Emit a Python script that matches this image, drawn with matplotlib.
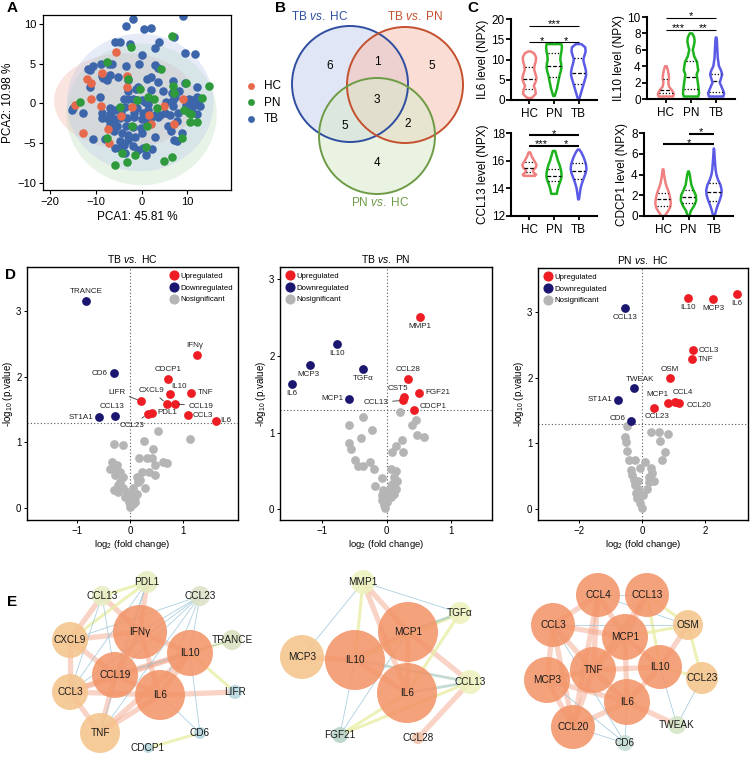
import numpy as np
import matplotlib
matplotlib.use('Agg')
import matplotlib.pyplot as plt
from matplotlib.patches import Circle, Ellipse, Polygon
from matplotlib.lines import Line2D

plt.rcParams['font.family'] = ['Liberation Sans', 'DejaVu Sans']
plt.rcParams['mathtext.fontset'] = 'custom'
plt.rcParams['mathtext.rm'] = 'Liberation Sans'
plt.rcParams['mathtext.it'] = 'Liberation Sans:italic'
plt.rcParams['mathtext.bf'] = 'Liberation Sans:bold'

W, H = 750, 757

# ---------------- data: A (PCA) ----------------
hc_pc1 = [-5.6, -8.6, -11.8, -3.2, -11.1, -3.2, 9.1, -11.1, -8.8, -2.1, 4.9, -4.4, 1.6, 7.1, 2.0, -7.3, -12.8, -7.0, -14.5]
hc_pc2 = [6.4, 3.8, 3.0, 3.4, 2.5, 2.0, 0.6, 0.5, -0.4, -0.5, -0.4, -1.6, -1.5, -2.6, -2.6, -3.25, -3.7, -5.0, -0.2]
pn_pc1 = [6.7, -2.3, -7.5, 4.3, -3.0, 6.9, 9.6, 14.6, -0.4, 1.3, 2.7, 13.1, 7.1, -13.4, -4.6, -1.1, 3.4, 9.3,
          10.4, 10.7, 12.1, 10.6, -2.1, 1.2, -7.5, 8.8, -4.3, 0.9, -1.4, 6.6, 4.9, -3.2, -5.7]
pn_pc2 = [8.5, 7.1, 5.2, 4.25, 3.1, 2.2, 2.5, 2.2, 1.75, 0.8, 0.6, 0.7, 1.25, 0.1, -0.5, 0.4, -0.6, -0.8,
          -1.25, -1.3, -2.4, -2.3, -2.9, -2.9, -4.4, -4.4, -6.2, -5.5, -6.5, -6.75, -7.3, -7.4, -7.8]
tb_pc1 = [-1.8, 9.1, -3.4, 0.6, 2.0, 7.1, -5.9, -4.6, -2.5, 3.9, 3.0, 0.1, 9.4, 11.6,
          -10.7, -11.6, -11.2, -8.9, -7.0, -6.4, -3.4, -0.6, 3.0, 3.6,
          -8.7, -8.4, -7.6, -6.9, -5.2, -2.9, 1.2, 2.0, 3.6, 6.9, 9.4, 12.0, -11.3,
          -2.9, -1.3, -0.7, 2.0, 4.6, 6.6, 7.3, 8.2, 10.4, 11.3, 12.1, 12.3, 12.7,
          -9.1, -3.9, -2.9, -1.9, -0.9, 0.1, 0.7, 1.4, 5.4, 6.9,
          -12.7, -14.9, -15.1, -8.6, -6.8, -6.8, -5.9, -4.4, -3.7, -1.6, -0.9, 0.4, 1.4, 3.0, 4.1, 5.0, 6.1, 6.8,
          7.9, 9.6, 10.7, 11.3, 12.1,
          -8.6, -7.3, -5.9, -4.6, -3.2, -1.6, 0.0, 1.8, 3.6, 5.7, 7.7, -6.8, -5.4, -3.4, -1.8, -0.1, 1.1,
          -10.6, -7.9, -6.1, -4.3, -2.9, -1.4, 0.0, 2.9, 6.4, 7.1, 7.7, 8.9, -4.6, -3.9, -3.0, -1.8, -4.6,
          -5.7, 0.4, -0.7, 0.9, 2.3, -3.6]
tb_pc2 = [10.6, 11.0, 9.7, 9.4, 9.5, 8.3, 7.7, 7.7, 7.4, 7.7, 7.0, 6.1, 6.3, 6.2,
          4.7, 4.3, 4.2, 5.0, 5.0, 4.9, 4.7, 5.0, 4.8, 4.4,
          3.4, 3.2, 2.9, 3.5, 3.3, 2.9, 3.0, 3.3, 2.7, 2.8, 2.6, 2.0, 2.0,
          1.6, 1.75, 2.0, 1.7, 1.6, 1.25, 0.8, 1.6, 0.5, 0.4, 0.8, 0.4, -0.3,
          0.75, 0.6, 0.6, 0.5, 0.4, 0.4, 0.1, -0.1, 0.2, 0.4,
          -1.25, -0.6, -0.8, -1.25, -0.6, -1.3, -0.8, -1.2, -0.5, -1.2, -0.6, -1.25, -0.8, -1.5, -1.5, -1.25, -1.5, -0.4,
          -1.2, -0.2, -0.8, -0.3, -1.3,
          -1.9, -2.0, -2.0, -1.9, -1.9, -1.75, -2.0, -2.1, -1.75, -2.8, -2.2, -2.7, -2.8, -2.8, -3.0, -3.1, -2.6,
          -4.5, -4.5, -3.5, -3.7, -4.0, -4.2, -3.75, -4.25, -3.5, -4.6, -4.8, -3.75, -4.8, -5.2, -4.6, -5.4, -5.6,
          -5.6, -5.6, -5.9, -6.5, -5.8, -6.25]
# confidence ellipses: centre x, centre y, width, height
ell_groups = ['HC', 'PN', 'TB']
ell_cx = [-3.6, 0.0, -0.3]
ell_cy = [0.3, -1.4, 0.1]
ell_w = [31.0, 32.8, 32.0]
ell_h = [12.0, 17.8, 17.3]

# ---------------- data: B (Venn) ----------------
venn_titles = ['TB $\\it{vs.}$ HC', 'TB $\\it{vs.}$ PN', 'PN $\\it{vs.}$ HC']
venn_counts = {'100': 6, '010': 5, '001': 4, '110': 1, '101': 5, '011': 2, '111': 3}

# ---------------- data: C (violins) ----------------
groups = ['HC', 'PN', 'TB']
violins = {
    'IL6': {
        'HC': ([0.5, 1.5, 2.5, 3.5, 4.5, 5.5, 6.5, 7.5, 8.5, 9.5, 10.5, 11.5, 12.0],
               [0.3, 0.8, 0.75, 0.55, 0.8, 0.9, 0.75, 0.6, 0.65, 0.8, 0.85, 0.6, 0.15], [2.8, 5.1, 8.2]),
        'PN': ([1.0, 2.0, 3.0, 4.0, 5.0, 6.0, 7.0, 8.0, 9.0, 10.0, 11.0, 12.0, 13.0, 13.8],
               [0.1, 0.25, 0.4, 0.5, 0.6, 0.7, 0.85, 0.95, 0.9, 0.8, 0.85, 0.95, 1.0, 0.95], [5.8, 8.4, 11.6]),
        'TB': ([0.0, 1.0, 2.0, 3.0, 4.0, 5.0, 6.0, 7.0, 8.0, 9.0, 10.0, 11.0, 12.0, 13.0, 13.8],
               [0.05, 0.2, 0.35, 0.5, 0.65, 0.8, 0.95, 0.95, 0.85, 0.7, 0.6, 0.75, 0.9, 0.85, 0.35], [4.0, 6.7, 10.3]),
    },
    'IL10': {
        'HC': ([0.3, 0.6, 1.0, 1.5, 2.0, 2.5, 3.0, 3.5, 4.0],
               [0.9, 1.0, 0.8, 0.4, 0.3, 0.4, 0.35, 0.25, 0.1], [0.7, 1.05, 2.45]),
        'PN': ([0.3, 0.7, 1.2, 2.0, 3.0, 3.5, 4.5, 5.2, 6.0, 6.5, 7.0, 7.5, 8.0],
               [0.9, 1.0, 0.95, 0.85, 0.7, 0.9, 0.75, 0.4, 0.22, 0.35, 0.45, 0.4, 0.15], [1.2, 2.7, 4.6]),
        'TB': ([0.3, 0.7, 1.2, 2.0, 2.5, 3.0, 3.5, 4.0, 5.0, 6.0, 7.0, 7.5],
               [0.9, 1.0, 0.8, 0.45, 0.6, 0.75, 0.6, 0.35, 0.2, 0.15, 0.1, 0.05], [0.9, 2.2, 3.1]),
    },
    'CCL13': {
        'HC': ([14.9, 15.0, 15.15, 15.3, 15.5, 15.7, 15.9, 16.1, 16.3, 16.6],
               [0.7, 0.85, 0.5, 0.45, 0.8, 0.9, 0.7, 0.5, 0.3, 0.1], [15.2, 15.5, 15.9]),
        'PN': ([13.6, 13.9, 14.2, 14.5, 14.8, 15.1, 15.4, 15.7, 16.0, 16.3, 16.7],
               [0.35, 0.45, 0.6, 0.8, 0.95, 0.95, 0.85, 0.7, 0.5, 0.35, 0.15], [14.5, 14.9, 15.4]),
        'TB': ([13.2, 13.6, 14.0, 14.4, 14.8, 15.1, 15.4, 15.7, 16.0, 16.3, 16.6, 16.8],
               [0.05, 0.15, 0.25, 0.45, 0.7, 0.9, 1.0, 0.95, 0.8, 0.6, 0.35, 0.1], [14.7, 15.25, 15.8]),
    },
    'CDCP1': {
        'HC': ([0.0, 0.4, 0.8, 1.2, 1.6, 2.0, 2.4, 2.8, 3.2, 3.6, 4.0, 4.5],
               [0.2, 0.55, 0.85, 0.95, 0.9, 0.8, 0.65, 0.45, 0.3, 0.2, 0.12, 0.05], [1.0, 1.6, 2.2]),
        'PN': ([0.0, 0.5, 1.0, 1.5, 2.0, 2.5, 3.0, 3.5, 4.0, 4.3],
               [0.1, 0.3, 0.7, 0.95, 0.9, 0.6, 0.35, 0.25, 0.15, 0.05], [1.3, 1.8, 2.55]),
        'TB': ([0.0, 0.5, 1.0, 1.5, 2.0, 2.5, 3.0, 3.5, 4.0, 4.5, 5.0, 5.5, 6.0, 6.5],
               [0.1, 0.25, 0.45, 0.7, 0.9, 0.95, 0.8, 0.5, 0.3, 0.2, 0.15, 0.1, 0.06, 0.02], [1.4, 2.3, 3.2]),
    },
}
violin_ylim = {'IL6': (0, 20), 'IL10': (0, 10), 'CCL13': (12, 18), 'CDCP1': (0, 8)}
violin_yticks = {'IL6': [0, 5, 10, 15, 20], 'IL10': [0, 2, 4, 6, 8, 10],
                 'CCL13': [12, 14, 16, 18], 'CDCP1': [0, 2, 4, 6, 8]}
# significance: (group a, group b, height, stars)
sig_bars = {
    'IL6': [(1, 3, 18.3, '***'), (1, 2, 14.2, '*'), (2, 3, 14.2, '*')],
    'IL10': [(1, 3, 9.9, '*'), (1, 2, 8.45, '***'), (2, 3, 8.45, '**')],
    'CCL13': [(1, 3, 17.83, '*'), (1, 2, 17.08, '***'), (2, 3, 17.08, '*')],
    'CDCP1': [(2, 3, 7.93, '*'), (1, 3, 6.9, '*')],
}

# ---------------- data: D (volcano) ----------------
volc = [
    dict(title='TB $\\it{vs.}$ HC',
         up_names=['IFNγ', 'CDCP1', 'IL10', 'TNF', 'LIFR', 'CXCL9', 'CCL19', 'PDL1', 'CCL23', 'CCL3', 'IL6'],
         up_x=[1.26, 0.71, 0.75, 1.16, 0.21, 0.69, 0.84, 0.42, 0.33, 1.09, 1.62],
         up_y=[2.33, 1.97, 1.74, 1.76, 1.63, 1.59, 1.59, 1.45, 1.43, 1.42, 1.33],
         down_names=['TRANCE', 'CD6', 'ST1A1', 'CCL13'],
         down_x=[-0.83, -0.31, -0.58, -0.28],
         down_y=[3.15, 2.05, 1.38, 1.40],
         ns_x=[-0.31, -0.14, 0.27, 0.52, 0.44, 0.16, 0.31, 0.41, 0.63, 0.47, 0.69, 0.22, 0.35, 0.47, 0.13, 0.19,
               -0.35, -0.25, -0.28, -0.19, -0.38, -0.28, -0.13, -0.19, -0.22, -0.31, -0.22, -0.13, -0.06, 0.06,
               0.13, 0.28, 0.03, 0.09, -0.03, 0.06, 0.0, 0.09, 0.0, -0.09, 0.14, 1.13],
         ns_y=[0.97, 0.96, 1.02, 1.17, 0.90, 0.76, 0.76, 0.76, 0.71, 0.65, 0.68, 0.55, 0.55, 0.50, 0.48, 0.43,
               0.71, 0.65, 0.58, 0.55, 0.60, 0.50, 0.48, 0.40, 0.35, 0.27, 0.25, 0.30, 0.25, 0.30,
               0.22, 0.31, 0.15, 0.17, 0.10, 0.07, 0.02, 0.10, 0.20, 0.17, 0.40, 1.05]),
    dict(title='TB $\\it{vs.}$ PN',
         up_names=['MMP1', 'CCL28', 'CST5', 'CCL13', 'FGF21', 'CDCP1'],
         up_x=[0.52, 0.33, 0.27, 0.26, 0.50, 0.42],
         up_y=[2.51, 1.70, 1.47, 1.42, 1.52, 1.30],
         down_names=['IL10', 'MCP3', 'TGFα', 'IL6', 'MCP1'],
         down_x=[-0.77, -1.19, -0.37, -1.47, -0.58],
         down_y=[2.15, 1.88, 1.83, 1.64, 1.44],
         ns_x=[0.21, -0.37, -0.58, -0.22, 0.46, 0.39, 0.47, 0.58, -0.59, -0.55, -0.40, 0.24, 0.15, 0.09, 0.26,
               -0.49, -0.44, -0.36, -0.26, -0.19, -0.18, -0.07, 0.06, 0.15, 0.11, 0.16, 0.09, 0.14, 0.11, 0.06,
               0.01, -0.04, -0.02, -0.07, -0.07, 0.04, 0.06, 0.01, -0.05],
         ns_y=[1.27, 1.20, 1.10, 1.03, 1.16, 1.10, 0.97, 0.94, 0.86, 0.79, 0.93, 0.90, 0.83, 0.75, 0.75,
               0.64, 0.57, 0.57, 0.62, 0.52, 0.31, 0.41, 0.53, 0.50, 0.42, 0.37, 0.33, 0.27, 0.20, 0.16,
               0.10, 0.05, 0.02, 0.18, 0.12, 0.25, 0.31, 0.20, 0.25]),
    dict(title='PN $\\it{vs.}$ HC',
         up_names=['IL10', 'MCP3', 'IL6', 'CCL3', 'TNF', 'OSM', 'MCP1', 'CCL4', 'CCL20', 'CCL23'],
         up_x=[1.46, 2.25, 3.01, 1.60, 1.57, 0.88, 0.81, 1.04, 1.15, 0.36],
         up_y=[3.21, 3.20, 3.27, 2.42, 2.28, 2.00, 1.62, 1.63, 1.62, 1.53],
         down_names=['CCL13', 'TWEAK', 'ST1A1', 'CD6'],
         down_x=[-0.56, -0.25, -0.77, -0.36],
         down_y=[3.06, 1.84, 1.66, 1.34],
         ns_x=[-0.48, -0.54, -0.50, -0.48, -0.41, -0.24, -0.36, 0.09, 0.27, 0.52, 0.81, 0.57, 0.73, 0.62,
               0.27, 0.30, 0.36, -0.33, -0.27, -0.22, -0.12, -0.19, -0.17, -0.06, 0.0, 0.04, 0.15, 0.20,
               0.20, -0.12, -0.08],
         ns_y=[1.26, 1.10, 1.02, 0.88, 0.74, 0.74, 0.59, 0.71, 1.17, 1.17, 1.14, 1.04, 0.86, 0.74,
               0.63, 0.54, 0.42, 0.52, 0.44, 0.37, 0.31, 0.24, 0.16, 0.09, 0.01, 0.21, 0.31, 0.41,
               0.49, 0.42, 0.62]),
]

# ---------------- data: E (networks) ----------------
net1_nodes = ['IFNγ', 'IL10', 'CCL19', 'IL6', 'CXCL9', 'CCL3', 'TNF', 'PDL1', 'CCL13', 'CCL23', 'TRANCE', 'LIFR', 'CD6', 'CDCP1']
net1_level = [3, 3, 3, 3, 2, 2, 2, 1, 1, 1, 1, 0, 0, 0]
net1_edges = [('IFNγ', 'CXCL9', 'o'), ('IFNγ', 'CCL19', 'o'), ('IFNγ', 'IL10', 'o'), ('IFNγ', 'IL6', 'o'),
              ('IFNγ', 'CCL13', 'o'), ('IFNγ', 'PDL1', 'o'), ('CCL19', 'IL6', 'o'), ('CCL19', 'CXCL9', 'o'),
              ('CCL19', 'CCL3', 'o'), ('CCL19', 'TNF', 'o'), ('CCL19', 'IL10', 'o'), ('IL6', 'TNF', 'o'),
              ('IL6', 'IL10', 'o'), ('IL6', 'LIFR', 'o'), ('IL6', 'CCL3', 'o'), ('CXCL9', 'CCL3', 'o'),
              ('CCL3', 'TNF', 'o'), ('CXCL9', 'CCL13', 'o'), ('IL10', 'TNF', 'o'), ('IL10', 'CCL3', 'o'),
              ('IL10', 'TRANCE', 'y'), ('IL10', 'LIFR', 'y'), ('CD6', 'CDCP1', 'y'), ('PDL1', 'CCL13', 'y'),
              ('PDL1', 'CXCL9', 'y'),
              ('CCL23', 'CXCL9', 'b'), ('CCL23', 'CCL19', 'b'), ('CCL23', 'CCL3', 'b'), ('CCL23', 'TNF', 'b'),
              ('CCL23', 'IFNγ', 'b'), ('PDL1', 'CCL3', 'b'), ('PDL1', 'TNF', 'b'), ('PDL1', 'CCL19', 'b'),
              ('CCL13', 'CCL3', 'b'), ('CCL13', 'CCL19', 'b'), ('CD6', 'IL6', 'b'), ('CD6', 'IL10', 'b'),
              ('TRANCE', 'CCL19', 'b'), ('CCL23', 'IL6', 'b'), ('CCL23', 'IL10', 'b')]

net2_nodes = ['MCP1', 'IL10', 'IL6', 'MCP3', 'MMP1', 'TGFα', 'CCL13', 'FGF21', 'CCL28']
net2_level = [3, 3, 3, 2, 1, 1, 1, 0, 0]
net2_edges = [('MMP1', 'MCP1', 'o'), ('MMP1', 'IL6', 'o'), ('MCP1', 'IL10', 'o'), ('MCP1', 'IL6', 'o'),
              ('IL10', 'IL6', 'o'), ('MCP1', 'CCL13', 'o'), ('CCL13', 'CCL28', 'o'), ('IL10', 'MCP3', 'o'),
              ('MMP1', 'IL10', 'y'), ('TGFα', 'IL6', 'y'), ('TGFα', 'IL10', 'y'), ('FGF21', 'IL6', 'y'),
              ('FGF21', 'CCL13', 'y'),
              ('TGFα', 'MCP1', 'g'), ('IL10', 'CCL13', 'g'), ('IL6', 'CCL13', 'g'),
              ('MMP1', 'MCP3', 'b'), ('MMP1', 'TGFα', 'b'), ('FGF21', 'IL10', 'b'), ('FGF21', 'MCP1', 'b')]

net3_nodes = ['CCL4', 'CCL13', 'CCL3', 'MCP1', 'TNF', 'IL10', 'MCP3', 'IL6', 'CCL20', 'OSM', 'CCL23', 'TWEAK', 'CD6']
net3_level = [3, 3, 3, 3, 3, 3, 3, 3, 3, 2, 2, 0, 0]
net3_edges = [('CCL4', 'CCL3', 'o'), ('CCL4', 'MCP1', 'o'), ('CCL4', 'TNF', 'o'), ('CCL3', 'MCP1', 'o'),
              ('CCL3', 'TNF', 'o'), ('CCL3', 'MCP3', 'o'), ('CCL3', 'CCL20', 'o'), ('MCP1', 'TNF', 'o'),
              ('MCP1', 'IL10', 'o'), ('MCP1', 'IL6', 'o'), ('MCP1', 'CCL13', 'o'), ('TNF', 'IL10', 'o'),
              ('TNF', 'IL6', 'o'), ('TNF', 'MCP3', 'o'), ('TNF', 'CCL20', 'o'), ('IL10', 'IL6', 'o'),
              ('IL6', 'CCL20', 'o'), ('IL6', 'MCP3', 'o'), ('IL6', 'TWEAK', 'o'), ('MCP3', 'CCL20', 'o'),
              ('CCL4', 'CCL20', 'o'), ('CCL13', 'TNF', 'o'), ('IL10', 'OSM', 'o'),
              ('CCL13', 'IL10', 'y'), ('OSM', 'MCP1', 'y'), ('IL10', 'CCL23', 'y'), ('OSM', 'CCL23', 'y'),
              ('CCL13', 'OSM', 'y'),
              ('CCL4', 'CCL13', 'b'), ('IL10', 'TWEAK', 'b'), ('IL6', 'CD6', 'b'), ('CCL20', 'CD6', 'b'),
              ('CCL3', 'CD6', 'b'), ('CCL23', 'TWEAK', 'b'), ('CCL3', 'OSM', 'b'), ('CCL4', 'OSM', 'b'),
              ('MCP3', 'CD6', 'b')]

# ---------------- layout (pixel positions) ----------------
net1_pos = {'IFNγ': (140, 632, 27), 'IL10': (190, 653, 23), 'CCL19': (115, 675, 23), 'IL6': (160, 695, 25),
            'CXCL9': (70, 640, 18), 'CCL3': (70, 692, 18), 'TNF': (100, 733, 20), 'PDL1': (147, 582, 11),
            'CCL13': (102, 596, 10), 'CCL23': (200, 596, 10), 'TRANCE': (232, 640, 10), 'LIFR': (235, 692, 7),
            'CD6': (200, 733, 6), 'CDCP1': (148, 748, 5)}
net2_pos = {'MCP1': (408, 632, 30), 'IL10': (355, 660, 30), 'IL6': (407, 693, 30), 'MCP3': (302, 657, 22),
            'MMP1': (363, 582, 12), 'TGFα': (460, 613, 11), 'CCL13': (470, 682, 12), 'FGF21': (340, 735, 8),
            'CCL28': (418, 738, 6)}
net3_pos = {'CCL4': (598, 595, 22), 'CCL13': (647, 595, 22), 'CCL3': (553, 625, 22), 'MCP1': (625, 637, 23),
            'TNF': (593, 670, 23), 'IL10': (660, 667, 22), 'MCP3': (547, 680, 23), 'IL6': (627, 702, 23),
            'CCL20': (573, 727, 22), 'OSM': (688, 625, 15), 'CCL23': (702, 678, 16), 'TWEAK': (677, 725, 9),
            'CD6': (625, 743, 8)}
net1_colors = {'CCL13': '#E8EDC2', 'PDL1': '#E6ECBE', 'CCL23': '#DCE2C6', 'TRANCE': '#D8E0BE',
               'LIFR': '#B5D6E0', 'CD6': '#B5D6E0', 'CDCP1': '#B5D6E0'}
net2_colors = {'FGF21': '#B8D4C8', 'CCL28': '#F2C2A8'}
net3_colors = {'TWEAK': '#D4E4C4', 'CD6': '#C4DDD4'}
level_colors = {3: '#F39569', 2: '#F5C48C', 1: '#EEF2BE', 0: '#B5D6E0'}
edge_style = {'o': ('#F29E80', 3.8, 0.45), 'y': ('#E9EEA6', 2.2, 0.8),
              'g': ('#9FC4B4', 2.0, 0.6), 'b': ('#97C3D8', 0.6, 0.8)}

c_hc, c_pn, c_tb = '#E6694C', '#2F9A3C', '#3D66AA'
viol_cols = {'HC': '#F08080', 'PN': '#1DB31D', 'TB': '#5A5AE6'}
c_up, c_down, c_ns = '#EE1D23', '#1B1670', '#B5B5B5'

fig = plt.figure(figsize=(7.5, 7.57), dpi=100)


def px_axes(l, t, r, b, **kw):
    return fig.add_axes([l / W, 1 - b / H, (r - l) / W, (b - t) / H], **kw)


ov = px_axes(0, 0, W, H)
ov.set_xlim(0, W)
ov.set_ylim(H, 0)
ov.axis('off')

# panel letters
for letter, (lx, ly) in {'A': (12, 8), 'B': (281, 8), 'C': (473, 8), 'D': (10, 275), 'E': (12, 602)}.items():
    ov.text(lx, ly, letter, fontsize=11, fontweight='bold', ha='center', va='center')

# ---------------- A ----------------
axA = px_axes(43, 15, 231, 190)
ell_fc = {'HC': '#F2B4A4', 'PN': '#BFDDBF', 'TB': '#B9C8EA'}
for g, cx, cy, ew, eh in zip(ell_groups, ell_cx, ell_cy, ell_w, ell_h):
    axA.add_patch(Ellipse((cx, cy), ew, eh, fc=ell_fc[g], ec='none', alpha=0.35, zorder=1))
axA.scatter(hc_pc1, hc_pc2, s=38, color=c_hc, zorder=3, label='HC', linewidths=0)
axA.scatter(pn_pc1, pn_pc2, s=38, color=c_pn, zorder=3, label='PN', linewidths=0)
axA.scatter(tb_pc1, tb_pc2, s=38, color=c_tb, zorder=2, label='TB', linewidths=0)
axA.set_xlim(-21.5, 19.5)
axA.set_ylim(-10.9, 11.1)
axA.set_xticks([-20, -10, 0, 10])
axA.set_yticks([-10, -5, 0, 5, 10])
axA.set_xticklabels(['\u221220', '\u221210', '0', '10'])
axA.set_yticklabels(['\u221210', '\u22125', '0', '5', '10'])
axA.tick_params(labelsize=8, length=3, width=0.8, pad=2)
for sp in axA.spines.values():
    sp.set_linewidth(0.9)
axA.set_xlabel('PCA1: 45.81 %', fontsize=8.5, labelpad=3)
axA.set_ylabel('PCA2: 10.98 %', fontsize=8.5, labelpad=2)
axA.legend(loc='center left', bbox_to_anchor=(1.02, 0.5), frameon=False, fontsize=8.5,
           handletextpad=0.1, labelspacing=0.35, markerscale=0.8, borderaxespad=0)

# ---------------- B (Venn) ----------------
venn_circ = [((350, 84), 58, '#2F4EA0', '#C9D3F0'),
             ((405, 85), 58, '#C4502E', '#F6C1B2'),
             ((377, 136), 58, '#6E9B45', '#D9EACB')]
for (cc, rr, ec, fc) in venn_circ:
    ov.add_patch(Circle(cc, rr, fc=fc, ec='none', alpha=0.55, zorder=1))
for (cc, rr, ec, fc) in venn_circ:
    ov.add_patch(Circle(cc, rr, fc='none', ec=ec, lw=1.4, zorder=2))
for txt, (tx, ty), col in zip(venn_titles, [(320, 17), (415, 17), (380, 203)],
                              [c[2] for c in venn_circ]):
    ov.text(tx, ty, txt, color=col, fontsize=8.5, ha='center', va='center')
venn_xy = {'100': (330, 66), '010': (432, 66), '001': (377, 163), '110': (377, 62),
           '101': (345, 126), '011': (408, 124), '111': (377, 100)}
for key, val in venn_counts.items():
    ov.text(*venn_xy[key], str(val), fontsize=8.5, ha='center', va='center', zorder=3)

# ---------------- C (violins) ----------------
c_boxes = {'IL6': (511, 19, 597, 100), 'IL10': (647, 17, 735, 99),
           'CCL13': (511, 133, 597, 216), 'CDCP1': (644, 133, 733, 216)}
bar_lw = {'IL6': 0.8, 'IL10': 0.8, 'CCL13': 1.5, 'CDCP1': 1.5}
for prot, box in c_boxes.items():
    ax = px_axes(*box)
    for i, g in enumerate(groups):
        ys, ws, qs = violins[prot][g]
        ys = np.asarray(ys, float)
        ws = np.asarray(ws, float) * 0.32
        pos = i + 1
        xs = np.concatenate([pos - ws, (pos + ws)[::-1]])
        yy = np.concatenate([ys, ys[::-1]])
        ax.add_patch(Polygon(np.column_stack([xs, yy]), closed=True, fc='white', ec=viol_cols[g],
                             lw=1.8, joinstyle='round', zorder=2))
        for k, qv in enumerate(qs):
            hw = np.interp(qv, ys, ws) - 0.03
            ax.plot([pos - hw, pos + hw], [qv, qv], color='black', lw=0.9, zorder=3,
                    ls=(0, (3, 1.5)) if k == 1 else (0, (1, 1.5)))
    for a, b, yv, st in sig_bars[prot]:
        ax.plot([a, b], [yv, yv], color='black', lw=bar_lw[prot], clip_on=False, solid_capstyle='butt')
        ax.annotate(st, ((a + b) / 2, yv), xytext=(0, -2.5), textcoords='offset points',
                    ha='center', va='bottom', fontsize=8, annotation_clip=False)
    ax.set_xlim(0.25, 3.75)
    ax.set_ylim(*violin_ylim[prot])
    ax.set_yticks(violin_yticks[prot])
    ax.set_xticks([1, 2, 3])
    ax.set_xticklabels(groups)
    ax.spines['top'].set_visible(False)
    ax.spines['right'].set_visible(False)
    ax.spines['left'].set_linewidth(1.5)
    ax.spines['bottom'].set_linewidth(1.5)
    ax.tick_params(axis='y', labelsize=8.5, width=1.3, length=3.5, pad=1)
    ax.tick_params(axis='x', labelsize=8.5, width=1.3, length=3, pad=3)
    ax.set_ylabel(prot + ' level (NPX)', fontsize=8.5, labelpad=2)

# ---------------- D (volcano) ----------------
d_boxes = [(27, 267, 238, 520), (280, 267, 492, 520), (538, 268, 748, 520)]
d_xlim = [(-1.95, 2.04), (-1.65, 1.63), (-3.3, 3.35)]
d_ylim = [(-0.18, 3.67), (-0.14, 3.16), (-0.17, 3.67)]
d_xticks = [[-1, 0, 1], [-1, 0, 1], [-2, 0, 2]]
d_legloc = ['upper right', 'upper left', 'upper left']
# label placement: dx, dy (pixels), ha, va, leader
d_labels = [
    {'TRANCE': (0, 6, 'center', 'bottom', False), 'CD6': (-6, 0, 'right', 'center', False),
     'ST1A1': (-6, 0, 'right', 'center', False), 'CCL13': (-3, 6, 'center', 'bottom', False),
     'IFNγ': (-2, 6, 'center', 'bottom', False), 'CDCP1': (0, 6, 'center', 'bottom', False),
     'IL10': (1, 4, 'left', 'bottom', False), 'TNF': (6, 0, 'left', 'center', False),
     'LIFR': (-16, 9, 'right', 'center', True), 'CXCL9': (-15, 13, 'center', 'center', True),
     'CCL19': (14, -3, 'left', 'center', True), 'PDL1': (5, 0, 'left', 'center', False),
     'CCL23': (-16, -11, 'center', 'center', True), 'CCL3': (5, -1, 'left', 'center', False),
     'IL6': (4, 0, 'left', 'center', False)},
    {'MMP1': (0, -6, 'center', 'top', False), 'IL10': (0, -6, 'center', 'top', False),
     'MCP3': (-1, -6, 'center', 'top', False), 'TGFα': (0, -6, 'center', 'top', False),
     'IL6': (0, -6, 'center', 'top', False), 'MCP1': (-6, 0, 'right', 'center', False),
     'CCL28': (0, 6, 'center', 'bottom', False), 'CST5': (-6, 5, 'center', 'bottom', False),
     'CCL13': (-15, -2, 'right', 'center', True), 'FGF21': (6, 0, 'left', 'center', False),
     'CDCP1': (6, 3, 'left', 'center', False)},
    {'IL10': (0, -6, 'center', 'top', False), 'MCP3': (0, -6, 'center', 'top', False),
     'IL6': (0, -6, 'center', 'top', False), 'CCL13': (1, -6, 'center', 'top', False),
     'CCL3': (6, 0, 'left', 'center', False), 'TNF': (6, 0, 'left', 'center', False),
     'OSM': (0, 5, 'center', 'bottom', False), 'TWEAK': (6, 5, 'center', 'bottom', False),
     'ST1A1': (-6, 0, 'right', 'center', False), 'MCP1': (-10, 5, 'center', 'bottom', False),
     'CCL4': (8, 6, 'center', 'bottom', False), 'CCL20': (8, -3, 'left', 'center', False),
     'CCL23': (3, -5, 'center', 'top', False), 'CD6': (-5, 2, 'right', 'center', False)},
]
for k, d in enumerate(volc):
    ax = px_axes(*d_boxes[k])
    ax.axhline(1.3, color='#555555', lw=0.8, ls=(0, (1, 2)), zorder=1)
    ax.axvline(0, color='#555555', lw=0.8, ls=(0, (1, 2)), zorder=1)
    ax.scatter(d['ns_x'], d['ns_y'], s=40, color=c_ns, linewidths=0, zorder=2)
    ax.scatter(d['up_x'], d['up_y'], s=40, color=c_up, linewidths=0, zorder=3)
    ax.scatter(d['down_x'], d['down_y'], s=40, color=c_down, linewidths=0, zorder=3)
    pts = list(zip(d['up_names'], d['up_x'], d['up_y'])) + list(zip(d['down_names'], d['down_x'], d['down_y']))
    for name, x, y in pts:
        dx, dy, ha, va, lead = d_labels[k][name]
        kw = {}
        if lead:
            kw['arrowprops'] = dict(arrowstyle='-', color='#333333', lw=0.6, shrinkA=1, shrinkB=3)
        ax.annotate(name, (x, y), xytext=(dx * 0.72, dy * 0.72), textcoords='offset points',
                    ha=ha, va=va, fontsize=5.8, color='#222222', **kw)
    ax.set_xlim(*d_xlim[k])
    ax.set_ylim(*d_ylim[k])
    ax.set_xticks(d_xticks[k])
    ax.set_yticks([0, 1, 2, 3])
    ax.tick_params(labelsize=7, length=2.5, width=0.7, pad=1.5)
    for sp in ax.spines.values():
        sp.set_linewidth(1.0)
    ax.set_title(d['title'], fontsize=7.5, pad=3)
    ax.set_xlabel('log$_2$ (fold change)', fontsize=6.8, labelpad=2)
    ax.set_ylabel('-log$_{10}$ (p.value)', fontsize=7, labelpad=0.5)
    handles = [Line2D([], [], marker='o', ls='', color=c, markersize=6.3)
               for c in (c_up, c_down, c_ns)]
    ax.legend(handles, ['Upregulated', 'Downregulated', 'Nosignificant'], loc=d_legloc[k],
              frameon=False, fontsize=5.6, handletextpad=0.2, labelspacing=0.55,
              borderaxespad=0.3, handlelength=1.2)

# ---------------- E (networks) ----------------
for nodes, levels, edges, pos, cols in [(net1_nodes, net1_level, net1_edges, net1_pos, net1_colors),
                                        (net2_nodes, net2_level, net2_edges, net2_pos, net2_colors),
                                        (net3_nodes, net3_level, net3_edges, net3_pos, net3_colors)]:
    for a, b, t in edges:
        col, lw, al = edge_style[t]
        ov.plot([pos[a][0], pos[b][0]], [pos[a][1], pos[b][1]], color=col, lw=lw, alpha=al,
                solid_capstyle='butt', zorder=2 if t == 'b' else 1)
    for name, lev in zip(nodes, levels):
        x, y, r = pos[name]
        fc = cols.get(name, level_colors[lev])
        ov.add_patch(Circle((x, y), r, fc=fc, ec='none', alpha=0.88, zorder=3))
        ov.text(x, y, name, fontsize=7.2, ha='center', va='center', color='#1a1a1a', zorder=4)

fig.savefig('out.png', dpi=100)
